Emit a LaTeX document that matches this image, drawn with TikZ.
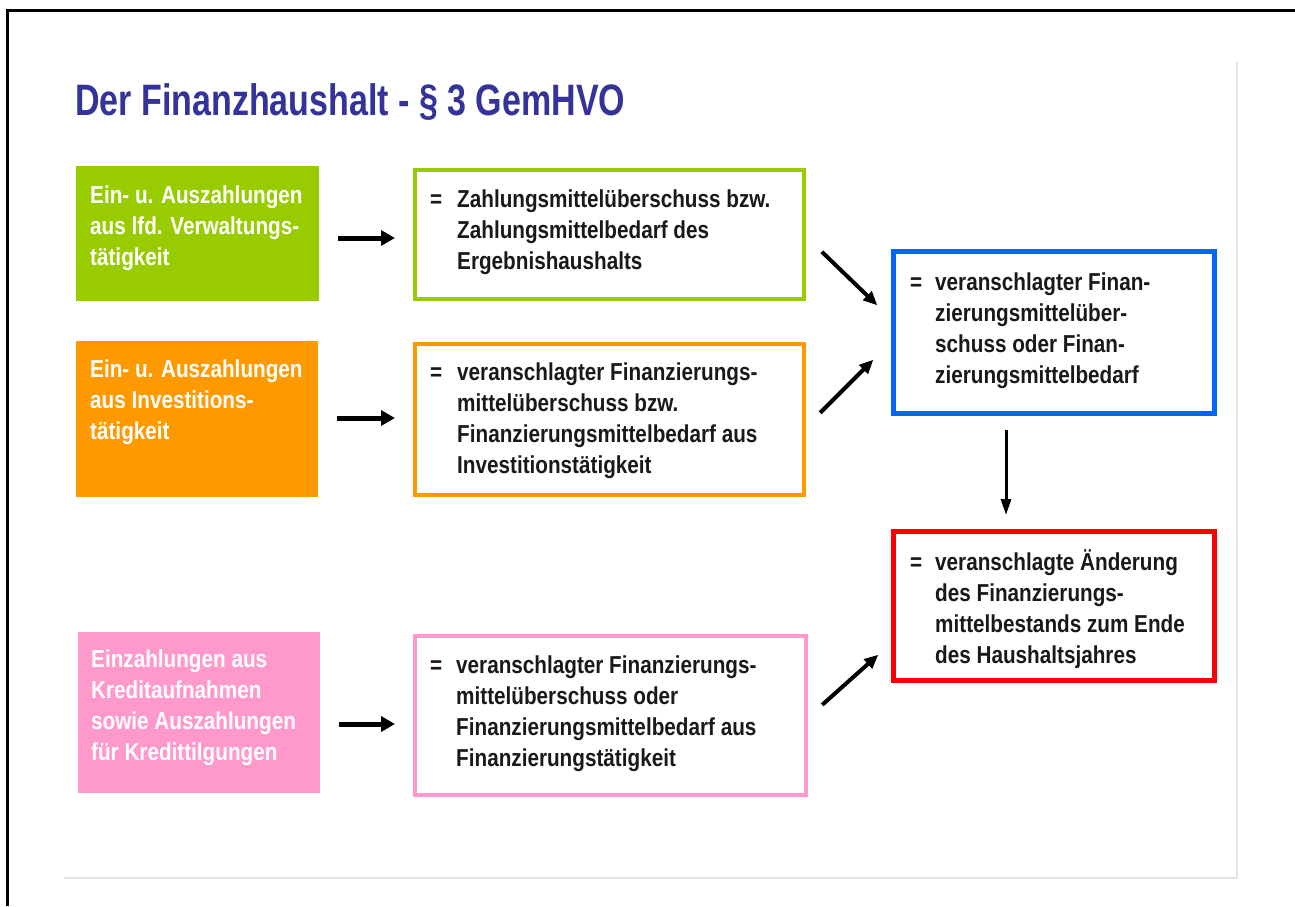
\documentclass[tikz,border=0pt]{standalone}
\usepackage{fontspec}
\usetikzlibrary{arrows.meta,calc}
\newfontfamily\titlef[FakeStretch=0.773]{Liberation Sans Bold}
\newfontfamily\bodyf[FakeStretch=0.845]{Liberation Sans Bold}
\definecolor{cgreen}{RGB}{153,204,0}
\definecolor{corange}{RGB}{255,153,0}
\definecolor{cpink}{RGB}{255,153,204}
\definecolor{cblue}{RGB}{0,102,255}
\definecolor{cred}{RGB}{255,0,0}
\definecolor{ctitle}{RGB}{51,51,153}
\definecolor{ctext}{RGB}{25,25,25}
\definecolor{cframe}{RGB}{228,228,228}
\tikzset{
  fillbox/.style={fill=#1, draw=none, inner sep=0, outer sep=0},
  outbox/.style={draw=#1, line width=4pt, fill=white, inner sep=0},
  txt/.style={anchor=base west, inner sep=0, font=\bodyf\fontsize{24.5}{31}\selectfont},
  harr/.style={line width=5pt, -{Triangle[length=14pt,width=15pt]}},
  darr/.style={line width=4pt, -{Triangle[length=14pt,width=12pt]}},
  varr/.style={line width=3pt, -{Triangle[length=16pt,width=10pt]}}
}
\begin{document}
\begin{tikzpicture}[x=1pt,y=-1pt]
\useasboundingbox[fill=white] (0,0) rectangle (1295,906);
% frames
\draw[line width=3pt] (7,906) -- (7,10) -- (1295,10);
\draw[cframe, line width=2pt] (64,878) -- (1237,878) -- (1237,62);
% title
\node[anchor=base west, inner sep=0, font=\titlef\fontsize{44}{50}\selectfont, text=ctitle] (title) at (75,115) {Der Finanzhaushalt - § 3 GemHVO};
% left filled boxes
\node[fillbox=cgreen, minimum width=243pt, minimum height=135pt] (gL) at (197.5,233.5) {};
\node[fillbox=corange, minimum width=242pt, minimum height=156pt] (oL) at (197,419) {};
\node[fillbox=cpink, minimum width=242pt, minimum height=161pt] (pL) at (199,712.5) {};
% outlined boxes
\node[outbox=cgreen, minimum width=389pt, minimum height=129pt] (gR) at (609.5,234.5) {};
\node[outbox=corange, minimum width=389pt, minimum height=151pt] (oR) at (609.5,419.5) {};
\node[outbox=cpink, minimum width=391pt, minimum height=159pt] (pR) at (610.5,715.5) {};
\node[outbox=cblue, line width=5pt, minimum width=321pt, minimum height=162pt] (bl) at (1054,332.5) {};
\node[outbox=cred, line width=5pt, minimum width=321pt, minimum height=149pt] (rd) at (1054,606) {};
% texts in filled boxes
\node[txt, text=white] (tgL) at (90,203) {\begin{tabular}[t]{@{}l@{}}Ein- u. Auszahlungen\\aus lfd. Verwaltungs-\\tätigkeit\end{tabular}};
\node[txt, text=white] (toL) at (90,377) {\begin{tabular}[t]{@{}l@{}}Ein- u. Auszahlungen\\aus Investitions-\\tätigkeit\end{tabular}};
\node[txt, text=white] (tpL) at (91,667) {\begin{tabular}[t]{@{}l@{}}Einzahlungen aus\\Kreditaufnahmen\\sowie Auszahlungen\\für Kredittilgungen\end{tabular}};
% texts in outlined boxes
\node[txt, text=ctext] (tgR) at (430,207) {\begin{tabular}[t]{@{}p{27pt}@{}l@{}}=&Zahlungsmittelüberschuss bzw.\\&Zahlungsmittelbedarf des\\&Ergebnishaushalts\end{tabular}};
\node[txt, text=ctext] (toR) at (430,380) {\begin{tabular}[t]{@{}p{27pt}@{}l@{}}=&veranschlagter Finanzierungs-\\&mittelüberschuss bzw.\\&Finanzierungsmittelbedarf aus\\&Investitionstätigkeit\end{tabular}};
\node[txt, text=ctext] (tpR) at (430,673) {\begin{tabular}[t]{@{}p{26pt}@{}l@{}}=&veranschlagter Finanzierungs-\\&mittelüberschuss oder\\&Finanzierungsmittelbedarf aus\\&Finanzierungstätigkeit\end{tabular}};
\node[txt, text=ctext] (tbl) at (910,290) {\begin{tabular}[t]{@{}p{25pt}@{}l@{}}=&veranschlagter Finan-\\&zierungsmittelüber-\\&schuss oder Finan-\\&zierungsmittelbedarf\end{tabular}};
\node[txt, text=ctext] (trd) at (910,570) {\begin{tabular}[t]{@{}p{25pt}@{}l@{}}=&veranschlagte Änderung\\&des Finanzierungs-\\&mittelbestands zum Ende\\&des Haushaltsjahres\end{tabular}};
% arrows
\draw[harr, shorten <=19pt, shorten >=18pt] ([yshift=-4.5pt]gL.east) -- ([yshift=-3.5pt]gR.west);
\draw[harr, shorten <=19pt, shorten >=18pt] ([yshift=1pt]oL.east) -- ([yshift=1.5pt]oR.west);
\draw[harr, shorten <=19pt, shorten >=18pt] ([yshift=-11.5pt]pL.east) -- ([yshift=-8.5pt]pR.west);
\draw[darr, shorten <=22pt, shorten >=19pt] ([yshift=-2pt]gR.east) -- ([yshift=14pt]bl.west);
\draw[darr, shorten <=20pt, shorten >=25pt] ([yshift=-7.5pt]oR.east) -- ([yshift=-9.5pt]bl.west);
\draw[darr, shorten <=19pt, shorten >=17pt] ([yshift=-2pt]pR.east) -- ([yshift=-37.4pt]rd.west);
\draw[varr, shorten <=14pt, shorten >=14pt] ([xshift=-48pt]bl.south) -- ([xshift=-48pt]rd.north);
\end{tikzpicture}
\end{document}
